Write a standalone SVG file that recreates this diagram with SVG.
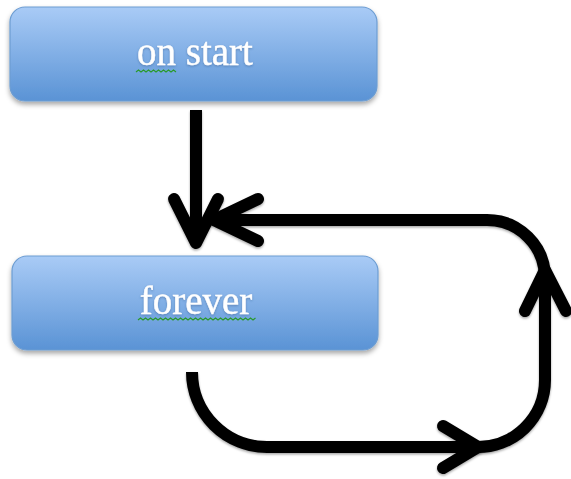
<svg xmlns="http://www.w3.org/2000/svg" width="571" height="479" viewBox="0 0 571 479">
  <defs>
    <linearGradient id="boxFill" x1="0" y1="0" x2="0" y2="1">
      <stop offset="0" stop-color="#a9cbf6"/>
      <stop offset="1" stop-color="#5a93d5"/>
    </linearGradient>
    <filter id="shadow" x="-10%" y="-20%" width="120%" height="150%">
      <feDropShadow dx="0" dy="3" stdDeviation="2.5" flood-color="#000" flood-opacity="0.35"/>
    </filter>
    <filter id="lineShadow" filterUnits="userSpaceOnUse" x="0" y="0" width="571" height="479">
      <feDropShadow dx="0" dy="1.5" stdDeviation="1.2" flood-color="#000" flood-opacity="0.35"/>
    </filter>
    <filter id="textShadow" filterUnits="userSpaceOnUse" x="0" y="0" width="571" height="479">
      <feDropShadow dx="0" dy="1" stdDeviation="0.8" flood-color="#2a4f80" flood-opacity="0.45"/>
    </filter>
  </defs>
  <style>
    .box { fill: url(#boxFill); stroke: #6d9dd2; stroke-width: 1.2; filter: url(#shadow); }
    .label { font-family: "Liberation Serif", "DejaVu Serif", serif; font-size: 39px; fill: #ffffff; stroke: #ffffff; stroke-width: 0.4; text-anchor: middle; filter: url(#textShadow); }
    .squiggle { fill: none; stroke: #2a9a2a; stroke-width: 1.2; }
    .conn { fill: none; stroke: #000; stroke-width: 12; stroke-linecap: round; stroke-linejoin: round; filter: url(#lineShadow); }
    .shaft { stroke-linecap: butt; }
  </style>
  <rect width="571" height="479" fill="#ffffff"/>

  <g id="on-start">
    <rect class="box" x="10" y="7" width="367" height="94" rx="15" ry="15"/>
    <text class="label" x="195" y="65">on start</text>
    <path class="squiggle" d="M136,72 l2.5,-2 l2.5,2 l2.5,-2 l2.5,2 l2.5,-2 l2.5,2 l2.5,-2 l2.5,2 l2.5,-2 l2.5,2 l2.5,-2 l2.5,2 l2.5,-2 l2.5,2 l2.5,-2 l2.5,2"/>
  </g>

  <g id="forever">
    <rect class="box" x="12" y="256" width="366" height="94" rx="15" ry="15"/>
    <text class="label" x="196" y="314">forever</text>
    <path class="squiggle" d="M138,320 l2.5,-2 l2.5,2 l2.5,-2 l2.5,2 l2.5,-2 l2.5,2 l2.5,-2 l2.5,2 l2.5,-2 l2.5,2 l2.5,-2 l2.5,2 l2.5,-2 l2.5,2 l2.5,-2 l2.5,2 l2.5,-2 l2.5,2 l2.5,-2 l2.5,2 l2.5,-2 l2.5,2 l2.5,-2 l2.5,2 l2.5,-2 l2.5,2 l2.5,-2 l2.5,2 l2.5,-2 l2.5,2 l2.5,-2 l2.5,2 l2.5,-2 l2.5,2 l2.5,-2 l2.5,2 l2.5,-2 l2.5,2 l2.5,-2 l2.5,2 l2.5,-2 l2.5,2 l2.5,-2 l2.5,2 l2.5,-2 l2.5,2 l2.5,-2"/>
  </g>

  <g id="connectors">
    <path class="conn shaft" d="M196,110 L196,240"/>
    <polyline class="conn" points="174,199 196,243 218,199"/>
    <path class="conn shaft" d="M192,372 A75,75 0 0 0 267,447 L476,447 A67,67 0 0 0 545,380 L545,278 A58,58 0 0 0 487,220 L217,220"/>
    <polyline class="conn" points="443,426 478,447 443,468"/>
    <polyline class="conn" points="525,311 545,270 566,311"/>
    <polyline class="conn" points="258,199 214,220 258,241"/>
  </g>
</svg>
